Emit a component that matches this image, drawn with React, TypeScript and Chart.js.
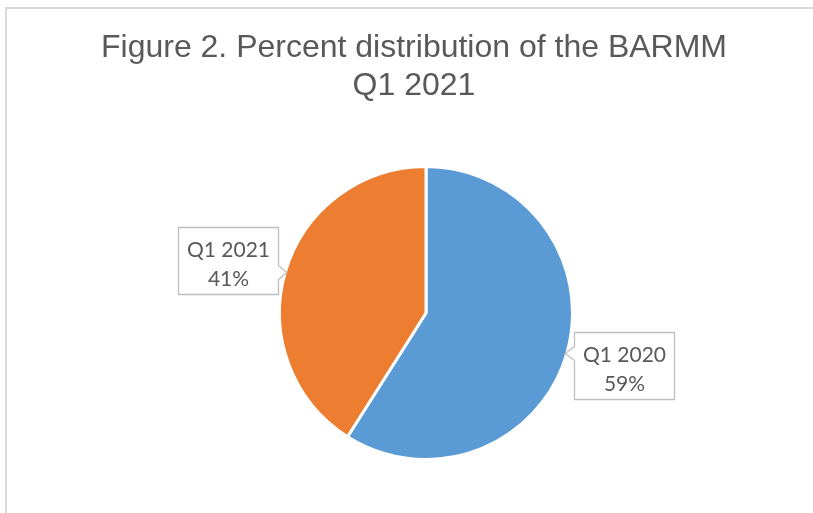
import React, { useEffect, useRef } from 'react';
import { Chart, registerables } from 'chart.js';

Chart.register(...registerables);

const categories = ['Q1 2020', 'Q1 2021'];
const values = [59, 41];
const sliceColors = ['#5B9BD5', '#ED7D31'];
const titleLines = ['Figure 2. Percent distribution of the BARMM', 'Q1 2021'];

export default function App() {
  const ref = useRef<HTMLCanvasElement>(null);

  useEffect(() => {
    const canvas = ref.current;
    if (!canvas) return;
    const total = values.reduce((a, b) => a + b, 0);

    const titlePlugin = {
      id: 'excelTitle',
      afterDraw(chart: any) {
        const ctx = chart.ctx;
        ctx.save();
        ctx.font = '32px "Liberation Sans", Arial, sans-serif';
        ctx.fillStyle = '#595959';
        ctx.textAlign = 'center';
        ctx.textBaseline = 'middle';
        titleLines.forEach((t, i) => ctx.fillText(t, 414, 48 + i * 38));
        ctx.restore();
      },
    };

    const calloutPlugin = {
      id: 'callouts',
      afterDatasetsDraw(chart: any) {
        const ctx = chart.ctx;
        const meta = chart.getDatasetMeta(0);
        const boxW = 100;
        const boxH = 67;
        meta.data.forEach((arc: any, i: number) => {
          const p = arc.getProps(['x', 'y', 'startAngle', 'endAngle', 'outerRadius'], true);
          const mid = (p.startAngle + p.endAngle) / 2;
          const r = p.outerRadius - 1.5;
          const tx = p.x + Math.cos(mid) * r;
          const ty = p.y + Math.sin(mid) * r;
          const rightSide = Math.cos(mid) >= 0;
          const dy = Math.sin(mid) >= 0 ? 12 : -12;
          const top = Math.round(ty + dy - boxH / 2) + 0.5;
          const bottom = top + boxH;
          let left: number, right: number;
          ctx.save();
          ctx.beginPath();
          if (rightSide) {
            left = Math.round(tx + 9) + 0.5;
            right = left + boxW;
            ctx.moveTo(left, top);
            ctx.lineTo(right, top);
            ctx.lineTo(right, bottom);
            ctx.lineTo(left, bottom);
            ctx.lineTo(left, ty + 7);
            ctx.lineTo(tx, ty);
            ctx.lineTo(left, ty - 7);
            ctx.closePath();
          } else {
            right = Math.round(tx - 9) + 0.5;
            left = right - boxW;
            ctx.moveTo(left, top);
            ctx.lineTo(right, top);
            ctx.lineTo(right, ty - 7);
            ctx.lineTo(tx, ty);
            ctx.lineTo(right, ty + 7);
            ctx.lineTo(right, bottom);
            ctx.lineTo(left, bottom);
            ctx.closePath();
          }
          ctx.fillStyle = '#FFFFFF';
          ctx.fill();
          ctx.strokeStyle = '#BFBFBF';
          ctx.lineWidth = 1.3;
          ctx.stroke();
          ctx.fillStyle = '#595959';
          ctx.font = '21px Lato, "Noto Sans", sans-serif';
          ctx.textAlign = 'center';
          ctx.textBaseline = 'alphabetic';
          const cx = (left + right) / 2;
          const pct = Math.round((values[i] / total) * 100) + '%';
          ctx.fillText(categories[i], cx, top + 29.5);
          ctx.fillText(pct, cx, top + 58);
          ctx.restore();
        });
      },
    };

    const chart = new Chart(canvas, {
      type: 'pie',
      data: {
        labels: categories,
        datasets: [
          {
            data: values,
            backgroundColor: sliceColors,
            borderColor: '#FFFFFF',
            borderWidth: 3,
          },
        ],
      },
      options: {
        responsive: false,
        animation: false,
        layout: { padding: { top: 165, bottom: 52, left: 200, right: 161 } },
        plugins: {
          legend: { display: false },
          tooltip: { enabled: false },
          title: { display: false },
        },
      },
      plugins: [titlePlugin, calloutPlugin],
    });
    return () => chart.destroy();
  }, []);

  return (
    <div style={{ position: 'fixed', left: 0, top: 0, width: 813, height: 513, background: '#FFFFFF', overflow: 'hidden' }}>
      <div
        style={{
          position: 'absolute',
          left: 5,
          top: 7,
          width: 900,
          height: 600,
          border: '2px solid #D9D9D9',
        }}
      />
      <canvas ref={ref} width={813} height={513} style={{ position: 'absolute', left: 0, top: 0 }} />
    </div>
  );
}
